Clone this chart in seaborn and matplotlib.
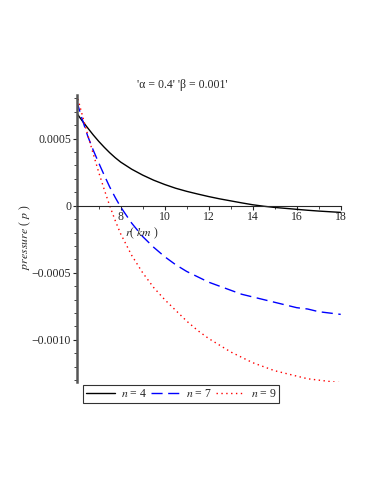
import numpy as np
import pandas as pd
import seaborn as sns
import matplotlib
matplotlib.use("Agg")
import matplotlib.pyplot as plt

# radius r (km)
r = [6, 6.25, 6.5, 6.75, 7, 7.25, 7.5, 7.75, 8, 8.5, 9, 9.5, 10, 10.5, 11,
     11.5, 12, 12.5, 13, 13.5, 14, 14.5, 15, 15.5, 16, 16.5, 17, 17.5, 18]

p_n4 = [0.00069, 0.000633, 0.00058, 0.000528, 0.00048, 0.000436, 0.000395,
        0.000358, 0.000325, 0.000272, 0.000228, 0.00019, 0.000158, 0.00013,
        0.000107, 0.000087, 0.000068, 0.000051, 0.000036, 0.000021,
        0.000007, -0.000004, -0.000013, -0.00002, -0.000027, -0.000034,
        -0.00004, -0.000045, -0.00005]

p_n7 = [0.00078, 0.000645, 0.00052, 0.000415, 0.00032, 0.000228, 0.00014,
        0.000062, -0.00001, -0.00013, -0.00023, -0.00031, -0.00038, -0.00044,
        -0.00049, -0.00053, -0.00057, -0.00060, -0.00063, -0.00066, -0.00068,
        -0.00070, -0.00072, -0.00074, -0.00076, -0.00077, -0.00079, -0.00080,
        -0.00081]

p_n9 = [0.00083, 0.000678, 0.00053, 0.000388, 0.00025, 0.000122, 0.0,
        -0.00011, -0.00021, -0.00037, -0.00050, -0.00061, -0.00070, -0.00078,
        -0.00086, -0.00093, -0.00099, -0.00104, -0.00109, -0.00113, -0.00117,
        -0.00120, -0.00123, -0.00125, -0.00127, -0.00129, -0.00130, -0.00131,
        -0.00132]

labels = ["$n$ = 4", "$n$ = 7", "$n$ = 9"]
xticks = [8, 10, 12, 14, 16, 18]
yticks = [0.0005, 0, -0.0005, -0.0010]
ytick_labels = ["0.0005", "0", "\u22120.0005", "\u22120.0010"]

sns.set_style("ticks")
plt.rcParams["font.family"] = ["Liberation Serif", "DejaVu Serif"]
plt.rcParams["mathtext.fontset"] = "stix"

fig = plt.figure(figsize=(3.74, 4.84), dpi=100)
ax = fig.add_axes([0.205, 0.211, 0.706, 0.593])

styles = [("black", None), ("blue", (8, 4)), ("red", (1, 2.5))]
for p, lab, (c, dash) in zip([p_n4, p_n7, p_n9], labels, styles):
    sns.lineplot(x=r, y=p, ax=ax, color=c, linewidth=1.0, label=lab)
    if dash is not None:
        ax.lines[-1].set_dashes(dash)

ax.set_xlim(6, 18)
ax.set_ylim(-0.001313, 0.000826)

ax.spines["top"].set_visible(False)
ax.spines["right"].set_visible(False)
ax.spines["bottom"].set_position(("data", 0))
ax.spines["bottom"].set_linewidth(0.8)
ax.spines["left"].set_linewidth(1.8)
ax.spines["left"].set_color("#555555")

ax.set_xticks([6] + xticks)
ax.set_xticklabels([""] + [str(t) for t in xticks], fontsize=8.5)
ax.set_xticks(np.arange(7, 18, 2), minor=True)
ax.set_yticks(yticks)
ax.set_yticklabels(ytick_labels, fontsize=8.5)
ax.set_yticks(np.arange(-0.0013, 0.00081, 0.0001), minor=True)
ax.tick_params(which="major", length=3, width=0.8, pad=1, direction="out")
ax.tick_params(which="minor", length=2, width=0.6, direction="out")

ax.set_xlabel("")
ax.set_ylabel("")
fig.text(0.38, 0.518, "$r$( $km$ )", fontsize=8.5, ha="center", va="center")
fig.text(0.067, 0.51, "$pressure$ ( $p$ )", fontsize=8.5, ha="center",
         va="center", rotation=90)
fig.text(0.488, 0.824, "'\u03b1 = 0.4' '\u03b2 = 0.001'", fontsize=8.5,
         ha="center", va="center")

leg = ax.legend(loc="upper left", bbox_to_anchor=(0.222, 0.205),
                bbox_transform=fig.transFigure, ncol=3, fontsize=8.5,
                frameon=True, fancybox=False, handlelength=2.5,
                handletextpad=0.45, columnspacing=0.35, borderpad=0.25,
                borderaxespad=0)
leg.get_frame().set_edgecolor("black")
leg.get_frame().set_linewidth(0.8)

fig.savefig("out.png", dpi=100)
